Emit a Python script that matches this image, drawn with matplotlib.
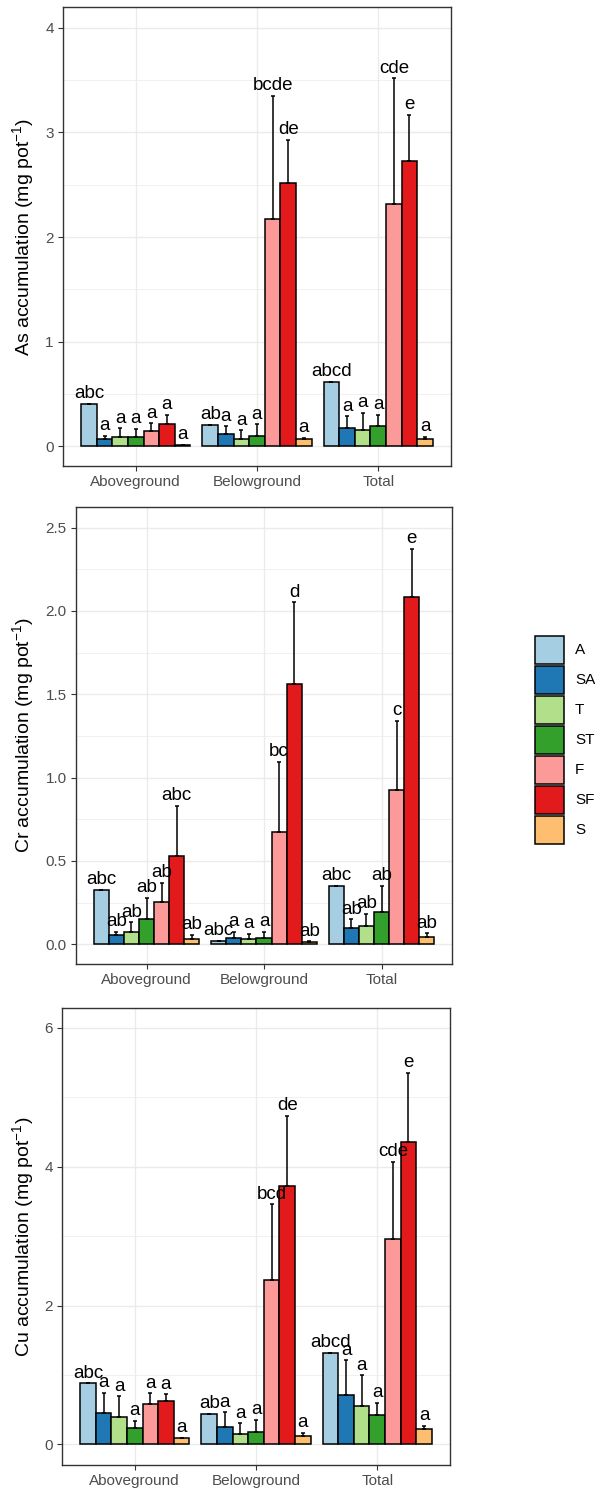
import numpy as np
import matplotlib
matplotlib.use("Agg")
import matplotlib.pyplot as plt
from matplotlib.patches import Rectangle
from matplotlib.ticker import MultipleLocator, FormatStrFormatter

plt.rcParams['font.family'] = ['Liberation Sans', 'DejaVu Sans']
plt.rcParams['mathtext.fontset'] = 'custom'
plt.rcParams['mathtext.rm'] = 'Liberation Sans'
plt.rcParams['mathtext.it'] = 'Liberation Sans:italic'

# data
groups = ["Aboveground", "Belowground", "Total"]
treatments = ["A", "SA", "T", "ST", "F", "SF", "S"]
colors = ["#A6CEE3", "#1F78B4", "#B2DF8A", "#33A02C", "#FB9A99", "#E31A1C", "#FDBF6F"]

# As: mean / sd per group (rows = groups, cols = treatments)
as_mean = [[0.405, 0.064, 0.086, 0.086, 0.147, 0.214, 0.013],
           [0.204, 0.112, 0.070, 0.100, 2.170, 2.515, 0.064],
           [0.613, 0.176, 0.156, 0.190, 2.320, 2.730, 0.073]]
as_sd = [[0.0, 0.036, 0.084, 0.080, 0.073, 0.086, 0.002],
         [0.0, 0.078, 0.080, 0.110, 1.180, 0.415, 0.016],
         [0.0, 0.108, 0.164, 0.110, 1.200, 0.440, 0.017]]
as_letters = [["abc", "a", "a", "a", "a", "a", "a"],
              ["ab", "a", "a", "a", "bcde", "de", "a"],
              ["abcd", "a", "a", "a", "cde", "e", "a"]]

# Cr
cr_mean = [[0.326, 0.056, 0.076, 0.150, 0.252, 0.528, 0.030],
           [0.022, 0.040, 0.030, 0.040, 0.672, 1.560, 0.012],
           [0.352, 0.096, 0.110, 0.192, 0.926, 2.086, 0.046]]
cr_sd = [[0.0, 0.018, 0.056, 0.130, 0.118, 0.304, 0.026],
         [0.0, 0.036, 0.032, 0.034, 0.424, 0.492, 0.006],
         [0.0, 0.054, 0.074, 0.160, 0.414, 0.286, 0.020]]
cr_letters = [["abc", "ab", "ab", "ab", "ab", "abc", "ab"],
              ["abc", "a", "a", "a", "bc", "d", "ab"],
              ["abc", "ab", "ab", "ab", "c", "e", "ab"]]

# Cu
cu_mean = [[0.878, 0.456, 0.394, 0.230, 0.576, 0.619, 0.091],
           [0.442, 0.254, 0.149, 0.178, 2.367, 3.725, 0.125],
           [1.320, 0.715, 0.552, 0.418, 2.952, 4.354, 0.216]]
cu_sd = [[0.0, 0.288, 0.297, 0.110, 0.158, 0.101, 0.0],
         [0.0, 0.206, 0.151, 0.177, 1.089, 1.013, 0.043],
         [0.0, 0.499, 0.446, 0.182, 1.118, 0.996, 0.053]]
cu_letters = [["abc", "a", "a", "a", "a", "a", "a"],
              ["ab", "a", "a", "a", "bcd", "de", "a"],
              ["abcd", "a", "a", "a", "cde", "e", "a"]]

panels = [
    ("As", as_mean, as_sd, as_letters, (-0.19, 4.2), 1.0, "%d", (63, 7, 451, 466)),
    ("Cr", cr_mean, cr_sd, cr_letters, (-0.118, 2.624), 0.5, "%.1f", (76, 507, 452, 964)),
    ("Cu", cu_mean, cu_sd, cu_letters, (-0.298, 6.287), 2.0, "%d", (62, 1008, 450, 1465)),
]

W, H = 595, 1490
fig = plt.figure(figsize=(W / 100, H / 100), dpi=100)

dodge = 0.9
bw = dodge / len(treatments)

for metal, means, sds, letters, ylim, step, fmt, box in panels:
    l, t, r, b = box
    ax = fig.add_axes([l / W, 1 - b / H, (r - l) / W, (b - t) / H])
    means = np.array(means)
    sds = np.array(sds)
    for i, tr in enumerate(treatments):
        x = np.arange(1, len(groups) + 1) + (i - 3) * bw
        ax.bar(x, means[:, i], width=bw, color=colors[i], edgecolor="black",
               linewidth=1.1, zorder=3)
        ax.errorbar(x, means[:, i], yerr=[np.zeros(len(groups)), sds[:, i]],
                    fmt="none", ecolor="black", elinewidth=1.1, capsize=1.5,
                    capthick=1.1, zorder=4)
        # letters go on top of every bar
        for g in range(len(groups)):
            ax.annotate(letters[g][i], (x[g], means[g, i] + sds[g, i]),
                        xytext=(0, 4), textcoords="offset points",
                        ha="center", va="baseline", fontsize=13.5, zorder=50)

    ax.set_xlim(0.4, 3.6)
    ax.set_ylim(*ylim)
    ax.set_xticks(range(1, len(groups) + 1))
    ax.set_xticklabels(groups)
    ax.yaxis.set_major_locator(MultipleLocator(step))
    ax.yaxis.set_minor_locator(MultipleLocator(step / 2))
    ax.yaxis.set_major_formatter(FormatStrFormatter(fmt))
    ax.grid(which="major", color="#EBEBEB", linewidth=1.0, zorder=0)
    ax.grid(which="minor", axis="y", color="#EBEBEB", linewidth=0.5, zorder=0)
    ax.set_axisbelow(True)
    ax.tick_params(axis="both", which="major", length=3.6, width=0.8,
                   color="#333333", labelcolor="#4D4D4D", labelsize=11, pad=3)
    ax.tick_params(axis="y", which="minor", length=0)
    for sp in ax.spines.values():
        sp.set_color("#333333")
        sp.set_linewidth(1.0)
        sp.set_zorder(30)
    ax.set_ylabel(metal + " accumulation (mg pot$^{-1}$)", fontsize=14)
    ax.yaxis.set_label_coords((36 - l) / (r - l), 0.5)

# legend drawn by hand so the keys match ggplot's square boxes
key_x, key_w, key_h, key_top, key_step = 535, 29, 28, 636, 30
for i, tr in enumerate(treatments):
    y0 = key_top + i * key_step
    fig.add_artist(Rectangle((key_x / W, 1 - (y0 + key_h) / H), key_w / W, key_h / H,
                             transform=fig.transFigure, facecolor=colors[i],
                             edgecolor="black", linewidth=1.1))
    fig.text(575 / W, 1 - (y0 + key_h / 2) / H, tr, fontsize=11,
             ha="left", va="center")

fig.savefig("out.png", dpi=100)
